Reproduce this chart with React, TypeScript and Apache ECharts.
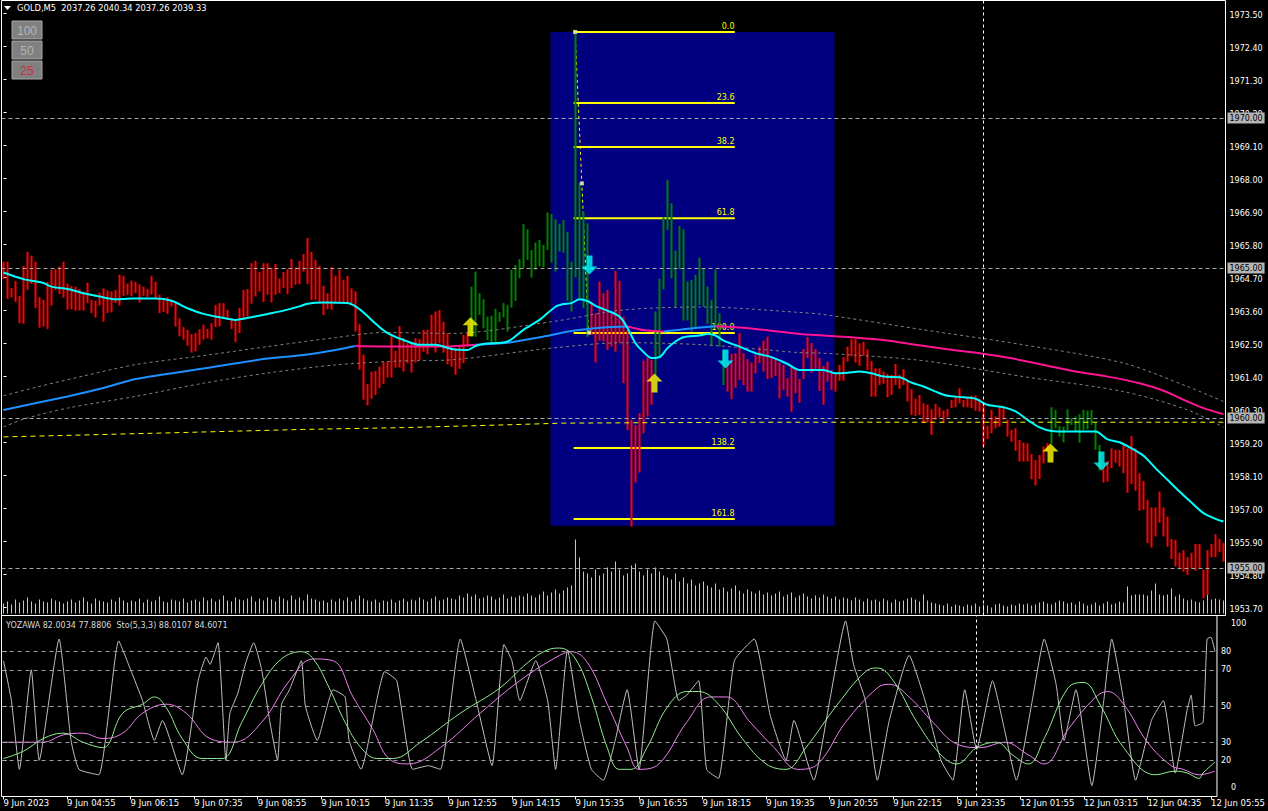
import React, { useEffect, useRef } from "react";
import * as echarts from "echarts";

const FONT = "DejaVu Sans";

const xLabels = ["9 Jun 2023","9 Jun 04:55","9 Jun 06:15","9 Jun 07:35","9 Jun 08:55","9 Jun 10:15","9 Jun 11:35","9 Jun 12:55","9 Jun 14:15","9 Jun 15:35","9 Jun 16:55","9 Jun 18:15","9 Jun 19:35","9 Jun 20:55","9 Jun 22:15","9 Jun 23:35","12 Jun 01:55","12 Jun 03:15","12 Jun 04:35","12 Jun 05:55"];
const yMainLabels = [1953.7,1954.8,1955.9,1957.0,1958.1,1959.2,1960.3,1961.4,1962.5,1963.6,1964.7,1965.8,1966.9,1968.0,1969.1,1970.2,1971.3,1972.4,1973.5];
const ySubLabels = [20,30,50,70,80];
const ySubEdgeLabels = ["100","0"];
const priceLines = [1955,1960,1965,1970];
const oscLevels = [20,30,50,70,80];

// bar bodies: [top, bottom]
const bars: [number, number][] = [
[1965.21,1964.63],[1965.21,1963.97],[1964.33,1964.02],[1964.57,1963.87],[1964.07,1963.16],[1965.07,1963.14],[1965.54,1964.27],[1965.41,1964.47],[1965.21,1963.67],[1964.03,1963.01],
[1963.94,1963.05],[1964.54,1962.97],[1964.94,1963.75],[1964.96,1964.27],[1965.05,1964.13],[1965.21,1964.01],[1964.48,1963.61],[1964.40,1963.62],[1964.38,1963.58],[1964.30,1963.58],
[1964.21,1963.58],[1964.51,1963.83],[1963.94,1963.50],[1963.91,1963.35],[1964.18,1963.75],[1964.32,1963.21],[1964.25,1963.50],[1964.22,1963.52],[1964.27,1963.83],[1964.78,1963.75],
[1964.74,1964.07],[1964.48,1964.10],[1964.58,1964.06],[1964.54,1964.16],[1964.46,1963.85],[1964.38,1964.07],[1964.30,1964.04],[1964.74,1964.11],[1964.54,1963.96],[1964.11,1963.50],
[1963.96,1963.54],[1964.03,1963.47],[1963.91,1963.72],[1963.83,1963.05],[1963.32,1962.72],[1963.03,1962.61],[1962.94,1962.41],[1962.80,1962.18],[1962.83,1962.22],[1962.96,1962.44],
[1963.11,1962.61],[1962.97,1962.65],[1963.16,1962.61],[1963.77,1963.03],[1963.83,1963.05],[1963.83,1963.35],[1963.61,1963.27],[1963.31,1962.97],[1963.23,1962.53],[1963.67,1962.83],
[1964.27,1963.27],[1964.30,1963.38],[1965.16,1963.81],[1965.24,1964.05],[1964.87,1964.22],[1965.16,1963.87],[1965.16,1964.11],[1965.01,1963.85],[1965.14,1964.11],[1964.65,1964.16],
[1964.87,1964.33],[1964.96,1964.13],[1965.30,1964.33],[1965.02,1964.44],[1965.24,1964.46],[1965.47,1964.88],[1966.00,1964.47],[1965.54,1963.94],[1965.27,1963.94],[1965.07,1963.83],
[1964.41,1963.43],[1964.16,1963.63],[1965.03,1963.61],[1964.74,1963.83],[1964.94,1963.85],[1964.61,1963.83],[1964.74,1963.83],[1964.32,1963.83],[1964.22,1962.88],[1963.13,1961.61],
[1962.11,1960.61],[1961.14,1960.42],[1961.54,1960.64],[1961.57,1960.77],[1961.72,1961.00],[1961.87,1961.14],[1961.87,1961.35],[1962.81,1961.35],[1962.24,1961.68],[1963.07,1961.68],
[1962.66,1961.55],[1962.49,1961.83],[1962.49,1961.51],[1962.66,1961.85],[1962.63,1961.94],[1962.94,1962.21],[1962.94,1962.13],[1963.44,1962.38],[1963.55,1962.18],[1963.60,1962.49],
[1963.21,1962.18],[1962.83,1961.79],[1962.38,1961.71],[1962.33,1961.44],[1962.38,1961.64],[1962.77,1961.83],[1962.83,1962.38],[1964.38,1962.71],[1964.88,1962.71],[1964.16,1963.44],
[1963.96,1962.99],[1963.38,1962.60],[1963.41,1962.49],[1963.64,1962.55],[1963.53,1963.21],[1963.83,1963.35],[1963.77,1962.88],[1964.94,1963.68],[1965.10,1963.90],[1965.30,1964.66],
[1966.47,1965.01],[1966.29,1965.27],[1965.60,1964.68],[1965.85,1964.94],[1965.94,1965.05],[1965.77,1965.03],[1966.85,1965.60],[1966.80,1965.18],[1966.63,1964.88],[1966.47,1965.55],
[1966.60,1965.51],[1966.21,1963.91],[1965.21,1963.55],[1972.87,1964.69],[1967.84,1964.00],[1966.88,1963.66],[1966.49,1962.71],[1963.88,1962.77],[1963.49,1961.85],[1964.55,1962.58],
[1964.16,1962.55],[1964.27,1962.27],[1963.49,1962.38],[1964.90,1962.21],[1964.57,1962.49],[1963.38,1961.16],[1962.94,1959.60],[1959.94,1956.38],[1959.77,1957.85],[1960.16,1958.18],
[1961.91,1959.49],[1962.01,1960.05],[1961.94,1960.44],[1963.55,1961.44],[1964.64,1962.05],[1966.69,1964.29],[1967.94,1966.27],[1967.16,1964.66],[1965.58,1963.71],[1966.40,1964.96],
[1966.29,1963.25],[1964.55,1963.25],[1964.60,1962.88],[1964.77,1962.96],[1965.35,1963.77],[1964.99,1963.71],[1964.38,1963.14],[1963.94,1962.40],[1964.94,1962.99],[1963.49,1962.38],
[1962.27,1961.10],[1961.83,1960.88],[1962.14,1960.63],[1962.16,1961.01],[1962.83,1961.27],[1962.16,1961.10],[1961.96,1960.88],[1961.85,1960.88],[1962.10,1961.49],[1962.38,1961.83],
[1962.58,1961.55],[1962.71,1961.30],[1962.05,1961.33],[1961.94,1961.40],[1961.85,1960.65],[1961.77,1960.94],[1961.33,1960.71],[1961.71,1960.21],[1961.60,1960.83],[1961.30,1960.51],
[1962.30,1961.30],[1962.70,1962.00],[1962.50,1961.50],[1962.30,1961.60],[1962.00,1960.90],[1961.74,1960.44],[1961.88,1961.21],[1961.60,1960.94],[1961.49,1960.88],[1961.77,1961.24],
[1962.03,1961.24],[1962.38,1961.88],[1962.63,1962.05],[1962.63,1961.85],[1962.49,1961.74],[1962.54,1962.07],[1962.29,1961.60],[1961.90,1960.71],[1961.66,1960.71],[1961.66,1961.10],
[1961.55,1961.14],[1961.47,1960.69],[1961.44,1960.77],[1961.80,1961.10],[1961.44,1960.97],[1961.63,1961.10],[1961.25,1960.55],[1960.96,1960.10],[1960.64,1960.07],[1960.77,1960.10],
[1960.49,1959.83],[1960.45,1959.85],[1960.29,1959.44],[1960.47,1959.94],[1960.36,1960.03],[1960.25,1959.86],[1960.30,1960.03],[1960.60,1960.33],[1960.71,1960.36],[1960.99,1960.49],
[1960.60,1960.36],[1960.68,1960.36],[1960.75,1960.33],[1960.75,1960.24],[1960.64,1960.21],[1960.49,1959.05],[1959.74,1959.30],[1960.27,1959.49],[1960.05,1959.66],[1960.36,1959.71],
[1960.33,1959.94],[1959.94,1959.38],[1959.60,1959.21],[1959.66,1958.91],[1959.27,1958.55],[1959.18,1958.55],[1959.16,1958.55],[1958.80,1957.96],[1958.60,1957.75],[1958.77,1957.97],
[1959.05,1958.49],[1959.16,1958.88],[1960.36,1959.14],[1960.27,1959.66],[1959.74,1959.38],[1959.71,1959.19],[1960.29,1959.60],[1959.99,1959.77],[1960.05,1959.55],[1960.13,1959.18],
[1960.27,1959.60],[1960.25,1959.62],[1960.27,1959.77],[1959.85,1958.94],[1959.10,1958.25],[1958.38,1957.85],[1958.57,1957.88],[1958.99,1958.33],[1958.94,1958.51],[1958.94,1958.38],
[1959.10,1958.16],[1958.99,1957.51],[1959.40,1957.80],[1958.99,1957.58],[1958.16,1956.91],[1957.90,1956.94],[1957.27,1955.83],[1957.02,1955.68],[1957.02,1956.05],[1957.55,1956.51],
[1957.02,1956.05],[1956.71,1955.71],[1955.97,1955.30],[1955.94,1955.05],[1955.51,1954.99],[1955.60,1954.88],[1955.36,1954.77],[1955.51,1954.99],[1955.80,1954.91],[1955.80,1954.99],
[1954.94,1953.99],[1955.60,1954.10],[1955.80,1955.36],[1956.13,1955.36],[1955.97,1955.53],[1955.83,1955.21]
];
// colour runs of the bars: [count, R|G]
const colorRuns: [number, string][] = [[117,"R"],[30,"G"],[16,"R"],[18,"G"],[81,"R"],[13,"G"],[31,"R"]];

const volumes = [
10,12,9,14,11,13,16,12,10,14,12,11,15,13,12,10,
12,14,11,13,16,12,10,15,13,12,11,14,12,16,13,11,
13,12,15,11,14,12,13,17,12,11,14,13,12,15,11,13,
14,12,16,13,15,12,14,18,13,12,16,14,13,15,17,12,
15,13,16,14,12,17,15,13,18,14,16,13,19,15,14,12,
13,11,14,12,15,13,16,12,14,18,15,13,12,14,11,13,
12,14,11,13,15,12,14,13,16,14,12,15,17,13,14,16,
15,14,18,16,20,17,19,15,16,18,17,14,16,19,15,17,
16,18,17,20,18,16,19,22,18,21,24,20,23,26,28,74,
56,42,40,36,44,38,40,46,42,52,44,38,40,48,50,42,
38,44,40,46,42,38,36,34,40,32,36,30,34,28,30,32,
28,26,30,24,26,22,25,28,23,20,24,22,20,23,19,21,
18,20,22,17,19,21,16,18,20,17,15,18,16,19,17,15,
17,14,16,15,13,16,14,12,15,13,14,12,15,13,11,14,
12,13,15,16,14,12,19,13,11,10,9,8,10,7,9,8,
7,9,8,10,7,9,8,6,9,10,8,7,9,8,10,9,
10,8,9,11,12,10,9,11,13,12,10,11,9,12,10,8,
9,11,8,10,12,9,10,12,11,27,18,19,19,19,18,23,
30,19,18,19,25,17,19,15,13,14,12,11,13,19,14,15,
14,13
];

const cyanMA = [[0,1964.85],[5,1964.63],[10,1964.5],[12,1964.38],[16,1964.3],[20,1964.16],[24,1964.05],[28,1963.96],[32,1963.98],[38,1963.98],[42,1963.91],[46,1963.66],[50,1963.47],[54,1963.36],[58,1963.27],[62,1963.36],[66,1963.47],[70,1963.58],[74,1963.72],[76,1963.81],[80,1963.85],[86,1963.83],[88,1963.72],[90,1963.52],[92,1963.27],[94,1963.03],[96,1962.83],[99,1962.65],[100,1962.6],[104,1962.44],[108,1962.44],[112,1962.3],[116,1962.27],[118,1962.4],[120,1962.47],[126,1962.55],[130,1962.94],[134,1963.27],[138,1963.71],[140,1963.8],[142,1963.83],[144,1963.96],[146,1963.9],[148,1963.74],[150,1963.63],[154,1963.38],[156,1963.0],[158,1962.49],[160,1962.2],[162,1962.0],[164,1962.03],[166,1962.33],[168,1962.55],[170,1962.69],[174,1962.75],[176,1962.8],[178,1962.75],[180,1962.58],[184,1962.38],[188,1962.16],[192,1962.03],[196,1961.8],[199,1961.6],[202,1961.6],[205,1961.6],[208,1961.49],[211,1961.51],[214,1961.55],[217,1961.49],[220,1961.38],[224,1961.36],[227,1961.18],[230,1961.05],[233,1960.88],[236,1960.74],[240,1960.69],[243,1960.64],[246,1960.44],[250,1960.36],[253,1960.22],[256,1959.94],[259,1959.69],[262,1959.57],[266,1959.55],[273,1959.55],[276,1959.29],[279,1959.19],[282,1958.99],[285,1958.74],[288,1958.33],[291,1957.94],[294,1957.55],[297,1957.18],[300,1956.83],[303,1956.64],[305,1956.55]];

const slowMA = [[0,1960.27],[16,1960.72],[25,1961.0],[33,1961.3],[50,1961.65],[66,1961.98],[75,1962.1],[83,1962.27],[88,1962.4],[99,1962.38],[110,1962.38],[118,1962.44],[126,1962.51],[134,1962.69],[142,1962.9],[150,1963.02],[156,1963.05],[160,1962.93],[165,1962.88],[170,1962.96],[178,1963.06],[184,1963.02],[190,1962.94],[199,1962.8],[205,1962.75],[212,1962.69],[220,1962.6],[228,1962.44],[236,1962.29],[244,1962.16],[252,1961.99],[260,1961.77],[268,1961.55],[276,1961.38],[284,1961.16],[290,1960.91],[296,1960.55],[300,1960.33],[305,1960.13]];
const slowRising = [[0,88],[118,156],[165,178]];
const slowFalling = [[88,118],[156,165],[178,305]];

const envUpper = [[0,1960.74],[8,1961.02],[20,1961.4],[33,1961.78],[50,1962.08],[66,1962.38],[83,1962.68],[95,1962.85],[112,1962.82],[137,1963.21],[155,1963.6],[175,1963.7],[199,1963.52],[205,1963.45],[230,1962.94],[255,1962.44],[280,1961.83],[296,1961.05],[305,1960.55]];
const envLower = [[0,1959.7],[5,1959.96],[16,1960.33],[33,1960.72],[50,1961.16],[66,1961.5],[83,1961.77],[99,1961.9],[112,1961.94],[137,1962.33],[155,1962.51],[175,1962.44],[199,1962.18],[205,1962.16],[230,1961.91],[255,1961.38],[280,1960.88],[296,1960.27],[305,1959.69]];
const yellowMA = [[0,1959.37],[40,1959.5],[75,1959.62],[100,1959.68],[125,1959.77],[140,1959.83],[190,1959.86],[305,1959.86]];

const fibLevels = ["0.0","23.6","38.2","61.8","100.0","138.2","161.8"];
const fibPrices = [1972.87,1970.50,1969.03,1966.66,1962.83,1959.00,1956.63];
const fibLineX = [142.6, 182.75];
const fibRect = [136.75, 1972.87, 207.75, 1956.41];
const fibTrend = [[142.9,1972.87],[146.25,1962.83]];
const fibAnchors = [[142.9,1972.87],[144.6,1967.82],[146.4,1962.85]];

const arrowsUp = [[116.75,1963.04],[162.75,1961.17],[261.75,1958.83]];
const arrowsDown = [[146.5,1965.1],[180.5,1961.97],[274.5,1958.57]];
const crossX = 244.85;

const oscGray = [[0,75],[2,53],[4,15],[7,70],[9,20],[14,87],[17,31],[19,15],[24,12],[29,86],[32,70],[35,53],[38,31],[40,42],[45,12],[49,64],[51,77],[52,73],[54,85],[56,20],[57,46],[59,57],[61,74],[63,85],[65,70],[67,42],[69,20],[70,51],[72,59],[75,75],[76,50],[79,31],[83,59],[86,55],[87,31],[90,15],[96,69],[99,64],[103,15],[107,17],[110,15],[115,87],[119,53],[123,17],[126,84],[128,75],[130,53],[134,75],[137,53],[139,15],[142,81],[145,42],[148,15],[151,9],[154,31],[157,59],[160,15],[164,97],[167,87],[170,53],[172,56],[175,64],[177,15],[180,10],[184,75],[189,87],[193,45],[197,20],[199,42],[204,9],[208,53],[212,97],[214,73],[217,53],[220,9],[223,42],[228,78],[232,53],[236,20],[239,9],[242,59],[245,26],[249,64],[252,37],[255,9],[259,53],[262,87],[265,62],[267,31],[270,59],[274,6],[277,53],[279,87],[282,53],[285,9],[289,42],[292,53],[295,13],[298,48],[299,56],[300,39],[302,41],[303,87],[304,88],[305,80]];
const stoMain = [[0,21],[5,25],[10,32],[15,35],[20,30],[25,27],[30,46],[35,51],[38,55],[41,49],[45,32],[50,21],[55,21],[60,41],[65,62],[70,76],[75,80],[78,76],[82,60],[86,41],[90,27],[94,21],[98,21],[105,30],[115,46],[125,60],[132,74],[137,81],[140,82],[144,76],[148,55],[152,27],[155,15],[158,15],[162,27],[167,49],[172,58],[175,58],[180,51],[186,32],[192,18],[197,15],[202,27],[210,51],[217,69],[220,71],[224,64],[230,41],[236,23],[240,18],[245,27],[250,30],[254,23],[258,18],[262,32],[268,60],[272,63],[276,51],[282,27],[290,12],[295,14],[298,13],[301,10],[302,13],[305,19]];
const stoSignal = [[0,30],[10,30],[15,34],[20,35],[25,32],[30,35],[35,46],[41,51],[46,46],[52,32],[58,30],[65,41],[72,64],[78,76],[83,75],[88,55],[93,37],[97,21],[102,18],[110,27],[120,46],[130,64],[140,78],[143,80],[147,74],[152,51],[157,27],[160,15],[165,18],[172,41],[178,55],[182,55],[188,41],[194,27],[200,15],[205,18],[212,41],[220,60],[223,62],[228,55],[234,41],[240,29],[246,27],[252,30],[258,23],[262,18],[268,37],[275,55],[278,58],[282,51],[288,30],[294,17],[297,15],[301,12],[305,14]];

const headerText = "GOLD,M5  2037.26 2040.34 2037.26 2039.33";
const subText = "YOZAWA 82.0034 77.8806  Sto(5,3,3) 88.0107 84.6071";
const buttons = [["100", "#b4b4b4"], ["50", "#b4b4b4"], ["25", "#c83232"]];

function buildOption() {
  const N = bars.length;
  const cats = bars.map((_, i) => String(i));
  const xMin = -0.5, xMax = N - 0.5;
  const colors: string[] = [];
  colorRuns.forEach(([n, c]) => { for (let k = 0; k < n; k++) colors.push(c); });

  const series: any[] = [];
  const hidden = { type: "line", symbol: "none", silent: true, lineStyle: { opacity: 0 }, data: [[-5, -50]] };

  series.push({ ...hidden, xAxisIndex: 1, yAxisIndex: 0, z: 0,
    markArea: { silent: true, itemStyle: { color: "#000080" },
      data: [[{ xAxis: fibRect[0], yAxis: fibRect[1] }, { xAxis: fibRect[2], yAxis: fibRect[3] }]] } });

  series.push({ ...hidden, xAxisIndex: 1, yAxisIndex: 0, z: 1,
    markLine: { silent: true, symbol: ["none", "none"], animation: false,
      lineStyle: { color: "#a8a8a8", type: [4, 3], width: 1 },
      label: { show: true, position: "end", distance: 2, color: "#000", backgroundColor: "#b4b4b4",
        padding: [2, 2, 1, 2], fontSize: 8, fontFamily: FONT, formatter: (p: any) => Number(p.value).toFixed(2) },
      data: [
        ...priceLines.map((p) => ({ yAxis: p })),
        { xAxis: crossX, label: { show: false }, lineStyle: { color: "#ffffff", type: [3, 3], width: 1 } },
      ] } });

  fibLevels.forEach((lv, k) => {
    series.push({ type: "line", xAxisIndex: 1, yAxisIndex: 0, z: 2, symbol: "rect", symbolSize: 1, showSymbol: true,
      itemStyle: { color: "#ffff00" }, lineStyle: { color: "#ffff00", width: 2 },
      data: [[fibLineX[0], fibPrices[k]],
        { value: [fibLineX[1], fibPrices[k]], label: { show: true, position: "top", align: "right", distance: 1,
          formatter: lv, color: "#ffff00", fontSize: 8, fontFamily: FONT } }] });
  });
  series.push({ type: "line", xAxisIndex: 1, yAxisIndex: 0, z: 2, symbol: "none",
    lineStyle: { color: "#ffff00", width: 1, type: [3, 3] }, data: fibTrend });

  series.push({ type: "bar", xAxisIndex: 2, yAxisIndex: 1, barWidth: 1, z: 3, silent: true,
    itemStyle: { color: "#90ee90", borderWidth: 0 }, data: volumes });

  series.push({ type: "candlestick", xAxisIndex: 0, yAxisIndex: 0, barWidth: 3, z: 3, silent: true,
    data: bars.map((b, i) => {
      const c = colors[i] === "G" ? "#008000" : "#ff0000";
      return { value: [b[1], b[0], b[1], b[0]], itemStyle: { color: c, color0: c, borderColor: c, borderColor0: c, borderWidth: 0 } };
    }) });

  const line = (data: any, color: string, width: number, extra: any = {}) => ({
    type: "line", xAxisIndex: 1, yAxisIndex: 0, z: 4, symbol: "none", silent: true,
    lineStyle: { color, width, ...(extra.lineStyle || {}) }, smooth: extra.smooth ?? 0, data });

  series.push(line(yellowMA, "#ffff00", 1, { lineStyle: { type: [5, 4] } }));
  series.push(line(envUpper, "#808080", 1, { lineStyle: { type: [3, 3] }, smooth: 0.3 }));
  series.push(line(envLower, "#808080", 1, { lineStyle: { type: [3, 3] }, smooth: 0.3 }));
  slowRising.forEach(([a, b]) => series.push(line(slowMA.filter((p) => p[0] >= a && p[0] <= b), "#1e90ff", 2, { smooth: 0.3 })));
  slowFalling.forEach(([a, b]) => series.push(line(slowMA.filter((p) => p[0] >= a && p[0] <= b), "#ff1493", 2, { smooth: 0.3 })));
  series.push(line(cyanMA, "#00ffff", 2, { smooth: 0.3 }));

  series.push({ type: "scatter", xAxisIndex: 1, yAxisIndex: 0, z: 5, silent: true,
    symbol: "rect", symbolSize: 4, itemStyle: { color: "#f0f0c0" }, data: fibAnchors });
  series.push({ type: "scatter", xAxisIndex: 1, yAxisIndex: 0, z: 6, silent: true,
    symbol: "path://M8,0L16,8L11,8L11,19L5,19L5,8L0,8Z", symbolSize: [16, 19],
    itemStyle: { color: "#ffff00" }, data: arrowsUp });
  series.push({ type: "scatter", xAxisIndex: 1, yAxisIndex: 0, z: 6, silent: true,
    symbol: "path://M5,0L11,0L11,11L16,11L8,19L0,11L5,11Z", symbolSize: [16, 19],
    itemStyle: { color: "#00ffff" }, data: arrowsDown });

  // lower panel
  series.push({ ...hidden, xAxisIndex: 4, yAxisIndex: 2, z: 1,
    markLine: { silent: true, symbol: ["none", "none"], label: { show: false },
      lineStyle: { color: "#a0a0a0", type: [4, 4], width: 1 },
      data: [...oscLevels.map((v) => ({ yAxis: v })),
        { xAxis: crossX, lineStyle: { color: "#ffffff", type: [3, 3], width: 1 } }] } });
  const sub = (data: any, color: string, smooth: number) => ({
    type: "line", xAxisIndex: 4, yAxisIndex: 2, z: 3, symbol: "none", silent: true, smooth,
    lineStyle: { color, width: 1 }, data });
  series.push(sub(oscGray, "#c0c0c0", 0.15));
  series.push(sub(stoSignal, "#ee82ee", 0.4));
  series.push(sub(stoMain, "#90ee90", 0.4));

  const graphic: any[] = [
    { type: "polygon", shape: { points: [[4, 6], [11, 6], [7.5, 10]] }, style: { fill: "#ffffff" } },
    { type: "text", x: 17, y: 8, style: { text: headerText, fill: "#ffffff", fontSize: 8.3, fontFamily: FONT, verticalAlign: "middle" } },
    { type: "text", x: 6, y: 625, style: { text: subText, fill: "#dcdcdc", fontSize: 8, fontFamily: FONT, verticalAlign: "middle" } },
    { type: "text", x: 1231, y: 623, style: { text: ySubEdgeLabels[0], fill: "#ffffff", fontSize: 8, fontFamily: FONT, verticalAlign: "middle" } },
    { type: "text", x: 1231, y: 787, style: { text: ySubEdgeLabels[1], fill: "#ffffff", fontSize: 8, fontFamily: FONT, verticalAlign: "middle" } },
  ];
  buttons.forEach(([t, c], k) => {
    const y = 21 + k * 20;
    graphic.push({ type: "rect", shape: { x: 12, y, width: 30, height: 18 }, style: { fill: "#808080", stroke: "#a8a8a8", lineWidth: 1 } });
    graphic.push({ type: "text", x: 27, y: y + 9.5, style: { text: t, fill: c, fontSize: 12, fontFamily: "Liberation Sans", align: "center", verticalAlign: "middle" } });
  });

  const gridGeom = { left: 1.5, width: 1224 };
  return {
    animation: false,
    backgroundColor: "#000000",
    textStyle: { fontFamily: FONT },
    grid: [
      { ...gridGeom, top: 0.5, height: 615, show: true, borderColor: "#ffffff", borderWidth: 1, backgroundColor: "transparent" },
      { ...gridGeom, top: 531.5, height: 82, show: false },
      { ...gridGeom, top: 615.5, height: 181, show: true, borderColor: "#ffffff", borderWidth: 1, backgroundColor: "transparent" },
    ],
    xAxis: [
      { type: "category", gridIndex: 0, data: cats, show: false, boundaryGap: true },
      { type: "value", gridIndex: 0, min: xMin, max: xMax, show: false },
      { type: "category", gridIndex: 1, data: cats, show: false, boundaryGap: true },
      { type: "category", gridIndex: 2, data: cats, boundaryGap: true,
        axisLine: { show: false },
        axisTick: { show: true, interval: 15, alignWithLabel: true, length: 3, lineStyle: { color: "#ffffff" } },
        axisLabel: { interval: 15, align: "left", margin: 2, color: "#ffffff", fontSize: 8.5, fontFamily: FONT,
          formatter: (_v: string, i: number) => xLabels[Math.round(i / 16)] || "" },
        splitLine: { show: false } },
      { type: "value", gridIndex: 2, min: xMin, max: xMax, show: false },
    ],
    yAxis: [
      { type: "value", gridIndex: 0, position: "right", min: 1953.417, max: 1973.917,
        axisLine: { show: false }, splitLine: { show: false },
        axisTick: { show: true, customValues: yMainLabels, length: 3, lineStyle: { color: "#ffffff" } },
        axisLabel: { customValues: yMainLabels, formatter: (v: number) => v.toFixed(2), color: "#ffffff", fontSize: 8, fontFamily: FONT, margin: 4, verticalAlign: "top", lineHeight: 5 } },
      { type: "value", gridIndex: 1, min: 0, max: 82, show: false },
      { type: "value", gridIndex: 2, position: "right", min: 0, max: 100,
        axisLine: { show: false }, splitLine: { show: false },
        axisTick: { show: true, customValues: ySubLabels, length: 3, lineStyle: { color: "#ffffff" } },
        axisLabel: { customValues: ySubLabels, formatter: (v: number) => String(v), color: "#ffffff", fontSize: 8, fontFamily: FONT, margin: 4 } },
    ],
    series,
    graphic,
  };
}

export default function App() {
  const ref = useRef<HTMLDivElement>(null);
  useEffect(() => {
    const chart = echarts.init(ref.current!, null, { renderer: "svg" });
    chart.setOption(buildOption() as any);
    return () => chart.dispose();
  }, []);
  return <div ref={ref} style={{ position: "fixed", left: 0, top: 0, width: 1268, height: 811 }} />;
}
